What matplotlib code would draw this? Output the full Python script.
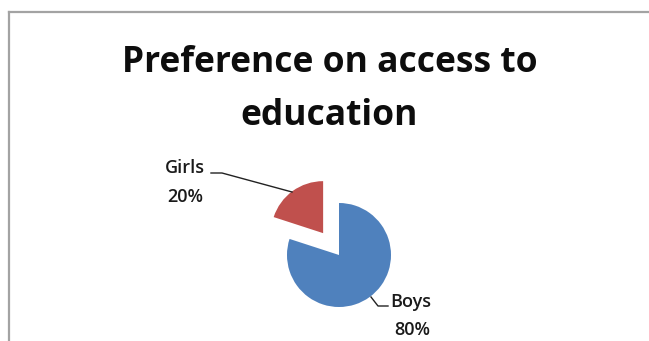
import matplotlib
matplotlib.use("Agg")
import matplotlib.pyplot as plt
from matplotlib.lines import Line2D

# Chart data
categories = ["Boys", "Girls"]
shares = [80, 20]
slice_colors = ["#4F81BD", "#C0504D"]
title_lines = ["Preference on access to", "education"]

W, H = 649, 341
fig = plt.figure(figsize=(W / 100, H / 100), dpi=100)
ax = fig.add_axes([0, 0, 1, 1])


def py(y):
    # convert a top-down pixel row to the axes' y coordinate
    return H - y


# chart frame: only its left and top edges fall inside the image
frame_kw = dict(color="#a3a3a3", linewidth=1.6, transform=ax.transData, clip_on=False)

radius = 52
center = (339, py(255))
explode_px = [0, 27]

wedges, _ = ax.pie(shares, colors=slice_colors, startangle=90,
                   counterclock=False, radius=radius, center=center,
                   explode=explode_px, frame=True,
                   wedgeprops=dict(linewidth=0))
ax.set_xlim(0, W)
ax.set_ylim(0, H)
ax.axis("off")

ax.add_line(Line2D([9, 9], [py(12), py(H + 10)], **frame_kw))
ax.add_line(Line2D([9, W + 10], [py(12), py(12)], **frame_kw))

label_font = dict(family="Open Sans", fontsize=13, fontweight="semibold", color="#1a1a1a")

# Girls label with leader line
ax.text(185, py(173), categories[1], ha="center", va="baseline", **label_font)
ax.text(185, py(202), f"{shares[1]}%", ha="center", va="baseline", **label_font)
ax.plot([211, 222, 292], [py(173), py(173), py(192)], color="#222222", lw=1)

# Boys label with leader line
ax.text(411, py(307), categories[0], ha="center", va="baseline", **label_font)
ax.text(412, py(335), f"{shares[0]}%", ha="center", va="baseline", **label_font)
ax.plot([371, 378, 388], [py(297), py(306), py(306)], color="#222222", lw=1)

title_font = dict(family="Open Sans", fontsize=25.5, fontweight="bold", color="#0d0d0d")
ax.text(330, py(72), title_lines[0], ha="center", va="baseline", **title_font)
ax.text(329, py(125), title_lines[1], ha="center", va="baseline", **title_font)

fig.savefig("out.png", dpi=100)
